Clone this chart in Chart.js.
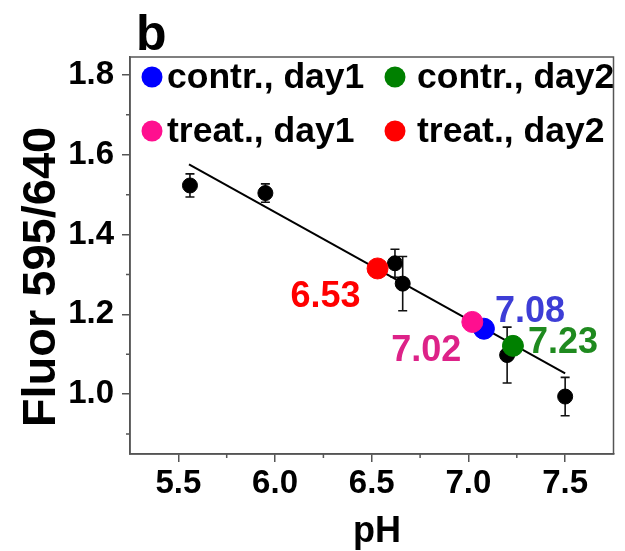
<!DOCTYPE html>
<html>
<head>
<meta charset="utf-8">
<script src="https://cdn.jsdelivr.net/npm/chart.js@4.4.1/dist/chart.umd.min.js"></script>
<style>
  html, body { margin: 0; padding: 0; background: #fff; }
  #wrap { width: 625px; height: 551px; }
</style>
</head>
<body>
<div id="wrap"><canvas id="chart" width="625" height="551"></canvas></div>
<script>
// pH vs. Fluor 595/640 (panel b)

// calibration points (black, with error bars)
const calibPH = [5.56, 5.95, 6.62, 6.66, 7.20, 7.50];
const calibFluor = [1.523, 1.504, 1.328, 1.277, 1.098, 0.994];
const calibErr = [0.029, 0.023, 0.035, 0.068, 0.070, 0.048];

// linear fit, end points
const fitPH = [5.555, 7.50];
const fitFluor = [1.576, 1.052];

// sample points
const sampleNames = ['contr., day1', 'contr., day2', 'treat., day1', 'treat., day2'];
const samplePH = [7.08, 7.23, 7.02, 6.53];
const sampleFluor = [1.164, 1.121, 1.181, 1.315];

// axis ticks
const xTicks = [5.5, 6.0, 6.5, 7.0, 7.5];
const xMinorTicks = [5.75, 6.25, 6.75, 7.25];
const yTicks = [1.0, 1.2, 1.4, 1.6, 1.8];
const yMinorTicks = [0.9, 1.1, 1.3, 1.5, 1.7];

const FONT = '"Liberation Sans", Arial, sans-serif';
const AXIS_COLOR = '#555';

const dotColors = ['#0000ff', '#008000', '#ff0f8f', '#ff0000'];
const textColors = ['#3d3dd6', '#1f8a1f', '#dd2288', '#ff0000'];
const drawOrder = [4, 2, 3, 1];          // lower = drawn on top
const labelOffsets = [[46, -17], [50, -3], [-46, 29], [-52, 29]];

const sampleSets = sampleNames.map((name, i) => ({
  label: name,
  data: [{ x: samplePH[i], y: sampleFluor[i] }],
  backgroundColor: dotColors[i],
  borderColor: dotColors[i],
  pointRadius: 10.5,
  order: drawOrder[i]
}));

// error bars, minor ticks, box, legend, texts
const extras = {
  id: 'extras',
  beforeDatasetsDraw(chart) {
    const ctx = chart.ctx, xs = chart.scales.x, ys = chart.scales.y;
    ctx.save();
    ctx.strokeStyle = '#111';
    ctx.lineWidth = 1.6;
    calibPH.forEach((ph, i) => {
      const px = xs.getPixelForValue(ph);
      const top = ys.getPixelForValue(calibFluor[i] + calibErr[i]);
      const bot = ys.getPixelForValue(calibFluor[i] - calibErr[i]);
      ctx.beginPath();
      ctx.moveTo(px, top); ctx.lineTo(px, bot);
      ctx.moveTo(px - 4.5, top); ctx.lineTo(px + 4.5, top);
      ctx.moveTo(px - 4.5, bot); ctx.lineTo(px + 4.5, bot);
      ctx.stroke();
    });
    ctx.restore();
  },
  afterDraw(chart) {
    const ctx = chart.ctx, xs = chart.scales.x, ys = chart.scales.y;
    const a = chart.chartArea;
    ctx.save();
    // box
    ctx.strokeStyle = AXIS_COLOR;
    ctx.lineWidth = 1.5;
    ctx.strokeRect(a.left, a.top, a.right - a.left, a.bottom - a.top);
    // minor ticks
    ctx.beginPath();
    xMinorTicks.forEach(v => {
      const px = xs.getPixelForValue(v);
      ctx.moveTo(px, a.bottom); ctx.lineTo(px, a.bottom + 4);
    });
    yMinorTicks.forEach(v => {
      const py = ys.getPixelForValue(v);
      ctx.moveTo(a.left, py); ctx.lineTo(a.left - 4, py);
    });
    ctx.stroke();

    // legend
    const legX = [152, 395], legY = [77, 131], legGap = [15, 22];
    ctx.font = 'bold 35.5px ' + FONT;
    ctx.textBaseline = 'middle';
    ctx.textAlign = 'left';
    sampleNames.forEach((name, i) => {
      const col = i % 2;
      const cx = legX[col], cy = legY[Math.floor(i / 2)];
      ctx.fillStyle = dotColors[i];
      ctx.beginPath();
      ctx.arc(cx, cy, 10.5, 0, Math.PI * 2);
      ctx.fill();
      ctx.fillStyle = '#000';
      ctx.fillText(name, cx + legGap[col], cy + 1);
    });

    // value labels
    ctx.font = 'bold 36px ' + FONT;
    ctx.textAlign = 'center';
    samplePH.forEach((ph, i) => {
      const px = xs.getPixelForValue(ph) + labelOffsets[i][0];
      const py = ys.getPixelForValue(sampleFluor[i]) + labelOffsets[i][1];
      ctx.fillStyle = textColors[i];
      ctx.fillText(ph.toFixed(2), px, py);
    });

    // axis titles and panel letter
    ctx.fillStyle = '#000';
    ctx.font = 'bold 36px ' + FONT;
    ctx.textBaseline = 'alphabetic';
    ctx.fillText('pH', 377, 542);
    ctx.save();
    ctx.translate(55, 277);
    ctx.rotate(-Math.PI / 2);
    ctx.font = 'bold 47px ' + FONT;
    ctx.fillText('Fluor 595/640', 0, 0);
    ctx.restore();
    ctx.font = 'bold 50px ' + FONT;
    ctx.textAlign = 'left';
    ctx.fillText('b', 136, 50);
    ctx.restore();
  }
};

new Chart(document.getElementById('chart'), {
  type: 'scatter',
  data: {
    datasets: [
      {
        label: 'measured',
        data: calibPH.map((x, i) => ({ x, y: calibFluor[i] })),
        backgroundColor: '#000',
        borderColor: '#000',
        pointRadius: 7.5,
        order: 6
      },
      {
        label: 'fit',
        type: 'line',
        data: fitPH.map((x, i) => ({ x, y: fitFluor[i] })),
        borderColor: '#000',
        borderWidth: 2,
        pointRadius: 0,
        fill: false,
        order: 5
      },
      ...sampleSets
    ]
  },
  options: {
    responsive: false,
    animation: false,
    devicePixelRatio: 1,
    layout: { padding: { top: 57, right: 3, left: 0, bottom: 0 } },
    plugins: { legend: { display: false }, tooltip: { enabled: false } },
    scales: {
      x: {
        type: 'linear',
        min: 5.25,
        max: 7.75,
        afterBuildTicks: s => { s.ticks = xTicks.map(v => ({ value: v })); },
        afterFit: s => { s.height = 97; },
        ticks: {
          callback: v => v.toFixed(1),
          font: { family: FONT, size: 33, weight: 'bold' },
          color: '#000',
          padding: 2,
          maxRotation: 0
        },
        grid: { drawOnChartArea: false, tickLength: 8, color: AXIS_COLOR, lineWidth: 1.5 },
        border: { color: AXIS_COLOR, width: 1.5 }
      },
      y: {
        min: 0.85,
        max: 1.845,
        afterBuildTicks: s => { s.ticks = yTicks.map(v => ({ value: v })); },
        afterFit: s => { s.width = 130; },
        ticks: {
          callback: v => v.toFixed(1),
          font: { family: FONT, size: 33, weight: 'bold' },
          color: '#000',
          padding: 8
        },
        grid: { drawOnChartArea: false, tickLength: 8, color: AXIS_COLOR, lineWidth: 1.5 },
        border: { color: AXIS_COLOR, width: 1.5 }
      }
    }
  },
  plugins: [extras]
});
</script>
</body>
</html>
